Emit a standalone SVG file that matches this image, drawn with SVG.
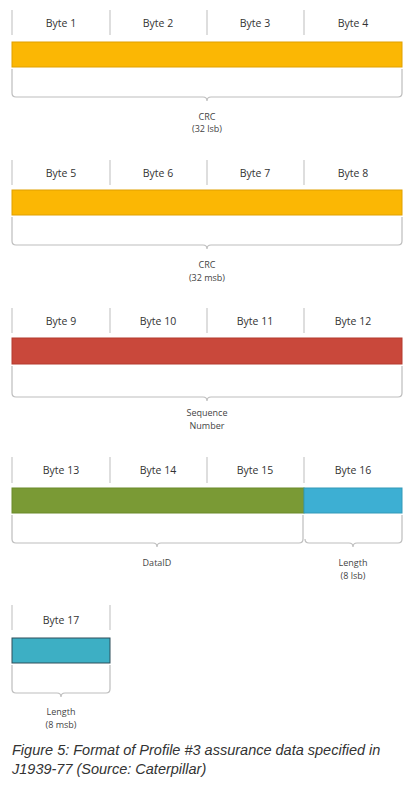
<svg xmlns="http://www.w3.org/2000/svg" width="414" height="792" viewBox="0 0 414 792">
<style>
.lbl{font-family:"Open Sans","Liberation Sans",sans-serif;font-size:10.5px;fill:#333;text-anchor:middle}
.sm{font-family:"Open Sans","Liberation Sans",sans-serif;font-size:9px;fill:#444;text-anchor:middle}
.div{stroke:#c8c8c8;stroke-width:1.2;fill:none}
.br{stroke:#bdbdbd;stroke-width:1.2;fill:none}
.cap{font-family:"Liberation Sans",Arial,sans-serif;font-style:italic;font-size:14.5px;fill:#333}
</style>
<rect width="414" height="792" fill="#fff"/>
<g id="row1">
<path class="div" d="M12,10V35M110,10V35M207,10V35M304,10V35"/>
<text class="lbl" x="61" y="27">Byte 1</text>
<text class="lbl" x="158" y="27">Byte 2</text>
<text class="lbl" x="255" y="27">Byte 3</text>
<text class="lbl" x="353" y="27">Byte 4</text>
<rect x="12" y="42" width="390" height="25" fill="#FBB704" stroke="#E0A000" stroke-width="1"/>
<path class="br" d="M12,69V93Q12,97 16,97H203Q207,97 207,101Q207,97 211,97H398Q402,97 402,93V69"/>
<text class="sm" x="207" y="120">CRC</text>
<text class="sm" x="207" y="132">(32 lsb)</text>
</g>
<g id="row2">
<path class="div" d="M12,160V185M110,160V185M207,160V185M304,160V185"/>
<text class="lbl" x="61" y="177">Byte 5</text>
<text class="lbl" x="158" y="177">Byte 6</text>
<text class="lbl" x="255" y="177">Byte 7</text>
<text class="lbl" x="353" y="177">Byte 8</text>
<rect x="12" y="190" width="390" height="25" fill="#FBB704" stroke="#E0A000" stroke-width="1"/>
<path class="br" d="M12,217V241Q12,245 16,245H203Q207,245 207,249Q207,245 211,245H398Q402,245 402,241V217"/>
<text class="sm" x="207" y="268">CRC</text>
<text class="sm" x="207" y="281">(32 msb)</text>
</g>
<g id="row3">
<path class="div" d="M12,308V333M110,308V333M207,308V333M304,308V333"/>
<text class="lbl" x="61" y="325">Byte 9</text>
<text class="lbl" x="158" y="325">Byte 10</text>
<text class="lbl" x="255" y="325">Byte 11</text>
<text class="lbl" x="353" y="325">Byte 12</text>
<rect x="12" y="338" width="390" height="26" fill="#C9483B" stroke="#B43A2F" stroke-width="1"/>
<path class="br" d="M12,366V393Q12,397 16,397H203Q207,397 207,401Q207,397 211,397H398Q402,397 402,393V366"/>
<text class="sm" x="207" y="416">Sequence</text>
<text class="sm" x="207" y="429">Number</text>
</g>
<g id="row4">
<path class="div" d="M12,457V483M110,457V483M207,457V483M304,457V483"/>
<text class="lbl" x="61" y="474">Byte 13</text>
<text class="lbl" x="158" y="474">Byte 14</text>
<text class="lbl" x="255" y="474">Byte 15</text>
<text class="lbl" x="353" y="474">Byte 16</text>
<rect x="12" y="488" width="292" height="25" fill="#7A9A35" stroke="#6B8A2B" stroke-width="1"/>
<rect x="304" y="488" width="98" height="25" fill="#3DAFD3" stroke="#3399B8" stroke-width="1"/>
<path class="br" d="M12,515V539Q12,543 16,543H153Q157,543 157,547Q157,543 161,543H299Q303,543 303,539V515"/>
<path class="br" d="M305,539Q305,543 309,543H349Q353,543 353,547Q353,543 357,543H398Q402,543 402,539V515"/>
<text class="sm" x="157" y="566">DataID</text>
<text class="sm" x="353" y="566">Length</text>
<text class="sm" x="353" y="579">(8 lsb)</text>
</g>
<g id="row5">
<path class="div" d="M12,605V630M110,605V630"/>
<text class="lbl" x="61" y="624">Byte 17</text>
<rect x="12" y="638" width="98" height="25" fill="#3DAFC4" stroke="#2E4E5A" stroke-width="1"/>
<path class="br" d="M12,665V689Q12,693 16,693H57Q61,693 61,697Q61,693 65,693H106Q110,693 110,689V665"/>
<text class="sm" x="61" y="715">Length</text>
<text class="sm" x="61" y="728">(8 msb)</text>
</g>
<g id="caption">
<text class="cap" x="12" y="755">Figure 5: Format of Profile #3 assurance data specified in</text>
<text class="cap" x="12" y="774">J1939-77 (Source: Caterpillar)</text>
</g>
</svg>
